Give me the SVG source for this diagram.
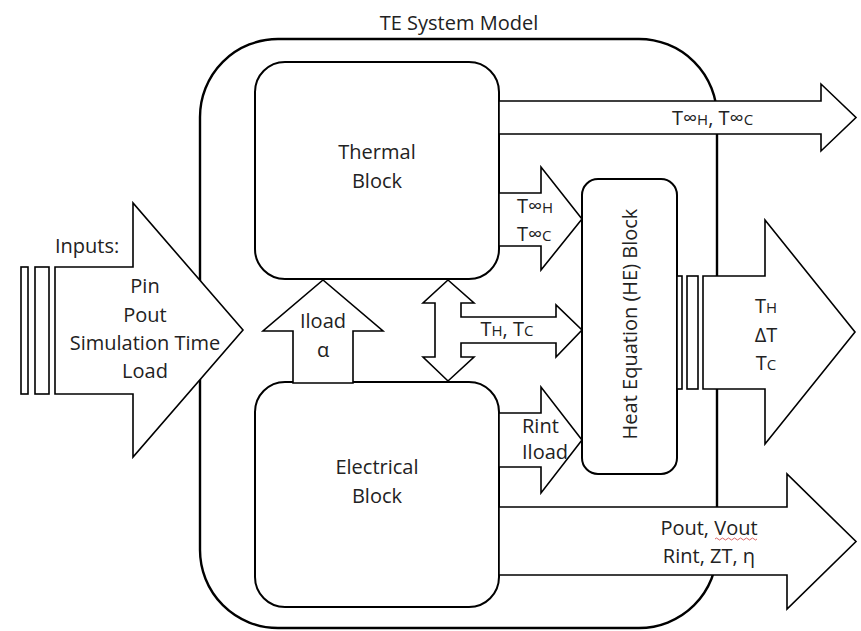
<svg xmlns="http://www.w3.org/2000/svg" width="861" height="631" viewBox="0 0 861 631">
<style>
  .frame { fill: #fff; stroke: #000; stroke-width: 2.4; }
  .blk { fill: #fff; stroke: #000; stroke-width: 2; }
  .arr { fill: #fff; stroke: #000; stroke-width: 1.6; stroke-linejoin: miter; }
  text { font-family: "Open Sans", "Liberation Sans", "DejaVu Sans", sans-serif; font-size: 20px; fill: #222; }
  .c { text-anchor: middle; }
  .s { font-size: 15px; }
</style>
<rect width="861" height="631" fill="#fff"/>
<g id="system">
  <rect class="frame" x="200" y="39" width="517" height="589" rx="78" ry="78"/>
  <text class="c" x="459" y="30">TE System Model</text>
</g>
<g id="thermal">
  <rect class="blk" x="255" y="62" width="244" height="217" rx="30"/>
  <text class="c" x="377" y="159">Thermal</text>
  <text class="c" x="377" y="188">Block</text>
</g>
<g id="electrical">
  <rect class="blk" x="255" y="382" width="244" height="225" rx="30"/>
  <text class="c" x="377" y="474">Electrical</text>
  <text class="c" x="377" y="503">Block</text>
</g>
<g id="he">
  <rect class="blk" x="582" y="179" width="95" height="295" rx="16"/>
  <text class="c" transform="translate(637,324) rotate(-90)">Heat Equation (HE) Block</text>
</g>
<g id="connectors">
  <g id="inputs">
    <rect class="arr" x="21" y="267" width="7" height="127"/>
    <rect class="arr" x="35" y="267" width="14" height="127"/>
    <path class="arr" d="M55,267 H133 V203 L243,330 L133,457 V394 H55 Z"/>
    <text x="55" y="253">Inputs:</text>
    <text class="c" x="145" y="293">Pin</text>
    <text class="c" x="145" y="322">Pout</text>
    <text class="c" x="145" y="350">Simulation Time</text>
    <text class="c" x="145" y="378">Load</text>
  </g>
  <g id="iload-alpha">
    <path class="arr" d="M293,383 V331 H263 L323,280 L383,331 H353 V383 Z"/>
    <text class="c" x="323" y="328">Iload</text>
    <text class="c" x="323" y="357">α</text>
  </g>
  <g id="th-tc">
    <path class="arr" d="M448,280 L474,303 H461 V317 H556 V305 L582,330 L556,357 V343 H461 V357 H474 L448,381 L423,357 H435 V303 H423 Z"/>
    <text class="c" x="507" y="336">T<tspan class="s">H</tspan>, T<tspan class="s">C</tspan></text>
  </g>
  <g id="tinf-in">
    <path class="arr" d="M499,193 H541 V167 L582,219 L541,270 V246 H499 Z"/>
    <text x="517" y="213">T∞<tspan class="s">H</tspan></text>
    <text x="517" y="241">T∞<tspan class="s">C</tspan></text>
  </g>
  <g id="rint-iload">
    <path class="arr" d="M499,413 H541 V387 L582,440 L541,493 V467 H499 Z"/>
    <text x="522" y="433">Rint</text>
    <text x="522" y="459">Iload</text>
  </g>
  <g id="tinf-out">
    <path class="arr" d="M499,101 H821 V84 L856,117.5 L821,151 V134 H499 Z"/>
    <text x="672" y="125">T∞<tspan class="s">H</tspan>, T∞<tspan class="s">C</tspan></text>
  </g>
  <g id="pout-out">
    <path class="arr" d="M499,507 H787 V474 L856,541.5 L787,609 V575 H499 Z"/>
    <text class="c" x="709" y="535">Pout, Vout</text>
    <text class="c" x="709" y="563">Rint, ZT, η</text>
    <path d="M715,539 q1.5,-2 3,0 t3,0 t3,0 t3,0 t3,0 t3,0 t3,0 t3,0 t3,0 t3,0 t3,0 t3,0 t3,0 t3,0" fill="none" stroke="#d04040" stroke-width="0.8"/>
  </g>
  <g id="th-dt-tc">
    <rect class="arr" x="677" y="276" width="5" height="113"/>
    <rect class="arr" x="687" y="276" width="11" height="113"/>
    <path class="arr" d="M703,276 H765 V220 L855,332 L765,444 V389 H703 Z"/>
    <text class="c" x="766" y="313">T<tspan class="s">H</tspan></text>
    <text class="c" x="766" y="342">ΔT</text>
    <text class="c" x="766" y="370">T<tspan class="s">C</tspan></text>
  </g>
</g>
</svg>
